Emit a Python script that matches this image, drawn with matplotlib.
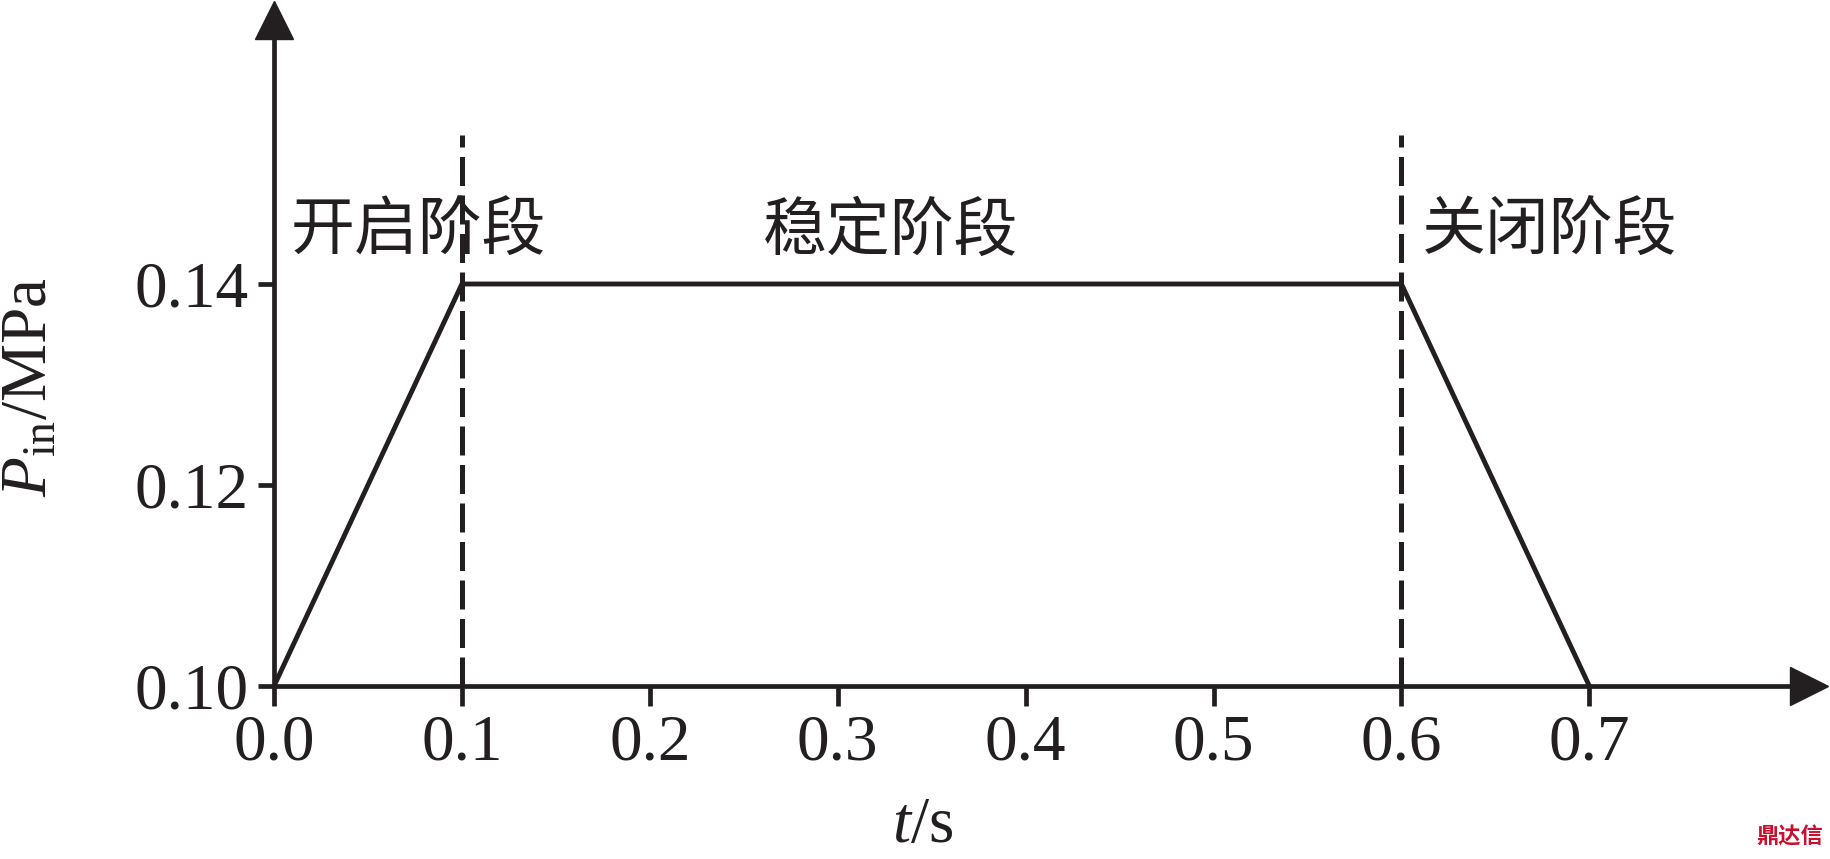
import matplotlib
matplotlib.use('Agg')
import matplotlib.pyplot as plt

# data
t = [0.0, 0.1, 0.6, 0.7]
p_in = [0.10, 0.14, 0.14, 0.10]
stage_bounds = [0.1, 0.6]
stage_names = ['开启阶段', '稳定阶段', '关闭阶段']
x_ticks = [0.0, 0.1, 0.2, 0.3, 0.4, 0.5, 0.6, 0.7]
x_ticklabels = ['0.0', '0.1', '0.2', '0.3', '0.4', '0.5', '0.6', '0.7']
y_ticks = [0.10, 0.12, 0.14]
y_ticklabels = ['0.10', '0.12', '0.14']

# layout
stage_x = [0.0766, 0.3284, 0.679]
stage_y = 0.1452
dash_top = 0.1548
ink = '#231f20'

plt.rcParams['font.family'] = ['Liberation Serif', 'DejaVu Sans']
plt.rcParams['mathtext.fontset'] = 'custom'
plt.rcParams['mathtext.rm'] = 'Liberation Serif'
plt.rcParams['mathtext.it'] = 'Liberation Serif:italic'

fig = plt.figure(figsize=(18.31, 8.59), dpi=100)
ax = fig.add_axes([0.14965, 0.2014, 0.98798 - 0.14965, 0.97672 - 0.2014])

ax.plot(t, p_in, color=ink, lw=3.5, solid_joinstyle='miter', zorder=3)
for xb in stage_bounds:
    ax.plot([xb, xb], [0.10, dash_top], color=ink, lw=3.6,
            dashes=(5.8, 1.9), zorder=2)

for name, xs in zip(stage_names, stage_x):
    ax.text(xs, stage_y, name, ha='center', va='center', fontsize=46,
            color=ink, family=['Noto Sans CJK SC', 'DejaVu Sans'])

ax.set_xlim(0, 0.8169)
ax.set_ylim(0.10, 0.16627)

for side in ['top', 'right']:
    ax.spines[side].set_visible(False)
for side in ['left', 'bottom']:
    ax.spines[side].set_linewidth(3.4)
    ax.spines[side].set_color(ink)

# arrow heads
ax.plot(1, 0, marker='>', color=ink, markersize=28, transform=ax.transAxes,
        clip_on=False)
ax.plot(0, 1, marker='^', color=ink, markersize=28, transform=ax.transAxes,
        clip_on=False)

ax.set_xticks(x_ticks)
ax.set_xticklabels(x_ticklabels)
ax.set_yticks(y_ticks)
ax.set_yticklabels(y_ticklabels)
ax.tick_params(axis='x', direction='out', length=14.5, width=3.4, pad=6,
               labelsize=47, colors=ink)
ax.tick_params(axis='y', direction='out', length=11.5, width=3.4, pad=7,
               labelsize=47, colors=ink)

fig.text(0.0165, 0.5495, r'$P_{\mathrm{in}}$/MPa', rotation=90, ha='center',
         va='center', fontsize=47, color=ink)
fig.text(0.504, 0.003, r'$t$/s', ha='center', va='bottom', fontsize=47,
         color=ink)
fig.text(0.9955, 0.012, '鼎达信', ha='right', va='bottom', fontsize=16,
         color='#c8102e', fontweight='bold',
         family=['Noto Sans CJK SC', 'DejaVu Sans'])

fig.savefig('out.png', dpi=100)
